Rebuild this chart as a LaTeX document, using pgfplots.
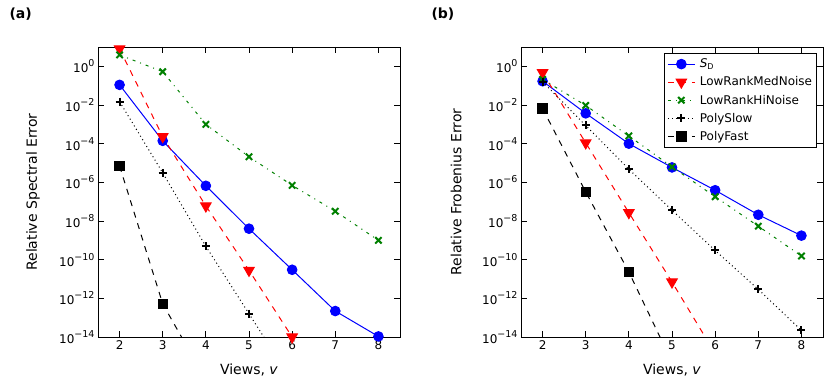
\documentclass[border=0pt]{standalone}
\usepackage{fontspec}
\setmainfont{DejaVu Sans}
\usepackage{pgfplots}
\pgfplotsset{compat=1.18}
\definecolor{mplgreen}{rgb}{0,0.5,0}

\newcommand{\ee}[1]{10\raisebox{0.5em}{\fontsize{9.5}{10}\selectfont #1}}
\pgfplotsset{
  sd/.style={blue, solid, mark=*, mark size=4.8pt, mark options={solid, fill=blue}},
  med/.style={red, dash pattern=on 6pt off 6pt, mark=triangle*, mark size=6pt, mark options={solid, rotate=180, fill=red}},
  hi/.style={mplgreen, dash pattern=on 3pt off 5pt on 1pt off 5pt, mark=x, mark size=4.5pt, mark options={solid, line width=2pt}},
  slow/.style={black, dash pattern=on 1pt off 3pt, mark=+, mark size=4pt, mark options={solid, line width=2pt}},
  fast/.style={black, dash pattern=on 6pt off 6pt, mark=square*, mark size=4.7pt, mark options={solid, fill=black}},
}

\begin{document}
\begin{tikzpicture}
\path[use as bounding box] (0,0) rectangle (831pt,387pt);
\node[anchor=west, font=\fontsize{14}{16}\selectfont\bfseries] at (6pt,373pt) {(a)};
\node[anchor=west, font=\fontsize{14}{16}\selectfont\bfseries] at (428pt,373pt) {(b)};

% spectral error
\begin{axis}[
  font=\fontsize{12}{14}\selectfont,
  scale only axis, width=302pt, height=290pt,
  at={(98pt,50pt)}, anchor=south west,
  xmin=1.5, xmax=8.5,
  ymode=log, ymin=1e-14, ymax=1e1,
  xtick={2,...,8}, xticklabels={2,3,4,5,6,7,8},
  ytick={1e-14,1e-12,1e-10,1e-8,1e-6,1e-4,1e-2,1e0},
  yticklabels={\ee{−14},\ee{−12},\ee{−10},\ee{−8},\ee{−6},\ee{−4},\ee{−2},\ee{0}},
  yminorticks=false,
  tick align=inside, major tick length=6pt,
  axis line style={line width=0.8pt},
  every tick/.style={black, line width=0.8pt},
  every tick label/.append style={font=\fontsize{12}{14}\selectfont},
  every axis x label/.style={at={(axis description cs:0.5,-0.114)}, anchor=center, font=\fontsize{14}{16}\selectfont},
  every axis y label/.style={at={(axis description cs:-0.215,0.5)}, rotate=90, anchor=center, font=\fontsize{14}{16}\selectfont},
  clip mode=individual,
  xlabel={Views, \textit{v}},
  ylabel={Relative Spectral Error},
  every axis plot/.append style={line width=1pt}]
\addplot[sd] coordinates {(2,0.11)(3,1.4e-4)(4,6.6e-7)(5,4e-9)(6,3e-11)(7,2.2e-13)(8,1.07e-14)};
\addplot[med] coordinates {(2,8)(3,2.3e-4)(4,6e-8)(5,2.8e-11)(6,1e-14)};
\addplot[hi] coordinates {(2,3.9)(3,0.53)(4,1e-3)(5,2.1e-5)(6,7e-7)(7,3.2e-8)(8,1e-9)};
\addplot[slow] coordinates {(2,1.5e-2)(3,3.1e-6)(4,4.9e-10)(5,1.6e-13)(6,5e-17)};
\addplot[fast] coordinates {(2,7e-6)(3,5.2e-13)(4,6e-17)};
\end{axis}

% frobenius error
\begin{axis}[
  font=\fontsize{12}{14}\selectfont,
  scale only axis, width=302pt, height=290pt,
  at={(521pt,50pt)}, anchor=south west,
  xmin=1.5, xmax=8.5,
  ymode=log, ymin=1e-14, ymax=1e1,
  xtick={2,...,8}, xticklabels={2,3,4,5,6,7,8},
  ytick={1e-14,1e-12,1e-10,1e-8,1e-6,1e-4,1e-2,1e0},
  yticklabels={\ee{−14},\ee{−12},\ee{−10},\ee{−8},\ee{−6},\ee{−4},\ee{−2},\ee{0}},
  yminorticks=false,
  tick align=inside, major tick length=6pt,
  axis line style={line width=0.8pt},
  every tick/.style={black, line width=0.8pt},
  every tick label/.append style={font=\fontsize{12}{14}\selectfont},
  every axis x label/.style={at={(axis description cs:0.5,-0.114)}, anchor=center, font=\fontsize{14}{16}\selectfont},
  every axis y label/.style={at={(axis description cs:-0.215,0.5)}, rotate=90, anchor=center, font=\fontsize{14}{16}\selectfont},
  clip mode=individual,
  xlabel={Views, \textit{v}},
  ylabel={Relative Frobenius Error},
  every axis plot/.append style={line width=1pt},
  legend image code/.code={\draw[mark repeat=2, mark phase=2] plot coordinates {(0pt,0pt)(13.5pt,0pt)(27pt,0pt)};},
  legend style={at={(1,1)}, xshift=-6pt, yshift=-6pt, anchor=north east, draw=black, line width=0.8pt,
    font=\fontsize{12}{14}\selectfont, row sep=4.5pt, inner xsep=3pt, inner ysep=4pt,
    nodes={inner sep=1.5pt}, column sep=3pt},
  legend cell align=left]
\addplot[sd] coordinates {(2,0.17)(3,3.7e-3)(4,1.0e-4)(5,5.9e-6)(6,3.9e-7)(7,2.1e-8)(8,1.75e-9)};
\addplot[med] coordinates {(2,0.47)(3,1.1e-4)(4,2.7e-8)(5,7e-12)(6,1.4e-15)};
\addplot[hi] coordinates {(2,0.21)(3,9.5e-3)(4,2.5e-4)(5,6.3e-6)(6,1.8e-7)(7,5.4e-9)(8,1.55e-10)};
\addplot[slow] coordinates {(2,0.16)(3,8.7e-4)(4,4.8e-6)(5,3.6e-8)(6,3e-10)(7,2.9e-12)(8,2.2e-14)};
\addplot[fast] coordinates {(2,6.6e-3)(3,3.2e-7)(4,2.3e-11)(5,5e-16)};
\legend{\textit{S}\textsubscript{D}, LowRankMedNoise, LowRankHiNoise, PolySlow, PolyFast}
\end{axis}
\end{tikzpicture}
\end{document}
